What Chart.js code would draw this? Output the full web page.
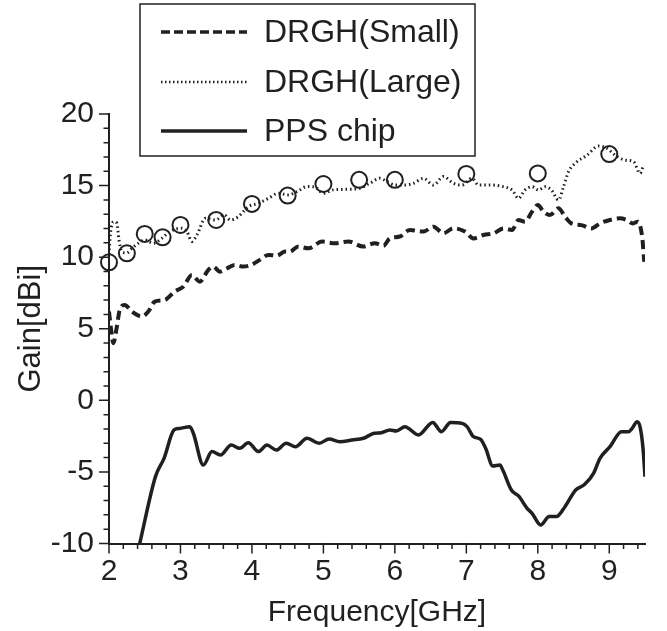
<!DOCTYPE html>
<html>
<head>
<meta charset="utf-8">
<script src="https://cdn.jsdelivr.net/npm/chart.js@4"></script>
<style>
  html, body { margin: 0; padding: 0; background: #fff; }
  #myChart { display: block; }
</style>
</head>
<body>
<canvas id="myChart" width="667" height="631"></canvas>
<script>
// values (GHz / dBi)
const freqSmall = [2.0, 2.03, 2.06, 2.11, 2.15, 2.22, 2.32, 2.46, 2.55, 2.64, 2.78, 2.92, 3.04, 3.16, 3.27, 3.39, 3.46, 3.55, 3.65, 3.76, 3.88, 3.99, 4.11, 4.23, 4.35, 4.46, 4.53, 4.65, 4.79, 4.98, 5.16, 5.35, 5.56, 5.72, 5.84, 5.93, 6.07, 6.21, 6.40, 6.54, 6.68, 6.82, 6.98, 7.10, 7.24, 7.38, 7.52, 7.64, 7.73, 7.82, 7.92, 8.0, 8.08, 8.17, 8.29, 8.38, 8.47, 8.61, 8.75, 8.87, 9.01, 9.15, 9.24, 9.33, 9.40, 9.46, 9.49];
const gainSmall = [6.2, 4.92, 3.99, 5.15, 6.32, 6.66, 6.2, 5.85, 6.2, 6.9, 7.01, 7.6, 7.94, 8.76, 8.29, 9.11, 9.34, 8.99, 9.22, 9.46, 9.34, 9.46, 9.81, 10.16, 10.1, 10.39, 10.39, 10.74, 10.62, 11.09, 10.97, 11.09, 10.74, 10.97, 10.8, 11.32, 11.44, 11.9, 11.79, 12.13, 11.67, 12.02, 11.79, 11.31, 11.55, 11.66, 12.01, 11.9, 12.6, 12.48, 13.18, 13.64, 13.18, 12.94, 13.41, 12.83, 12.36, 12.24, 12.01, 12.36, 12.6, 12.71, 12.6, 12.36, 12.48, 11.43, 9.68];

const freqLarge = [2.0, 2.02, 2.07, 2.11, 2.14, 2.18, 2.25, 2.32, 2.41, 2.5, 2.62, 2.74, 2.85, 3.02, 3.09, 3.16, 3.23, 3.35, 3.49, 3.61, 3.70, 3.81, 3.95, 4.09, 4.23, 4.37, 4.51, 4.63, 4.77, 4.88, 5.0, 5.14, 5.33, 5.51, 5.65, 5.79, 5.89, 6.0, 6.14, 6.26, 6.40, 6.54, 6.68, 6.82, 6.94, 7.08, 7.17, 7.33, 7.52, 7.64, 7.73, 7.82, 7.92, 8.01, 8.1, 8.19, 8.29, 8.36, 8.43, 8.52, 8.69, 8.85, 8.97, 9.08, 9.22, 9.34, 9.43, 9.48];
const gainLarge = [10.2, 11.67, 12.48, 12.37, 11.2, 10.39, 10.3, 10.62, 10.97, 11.2, 10.97, 11.32, 11.79, 12.02, 11.79, 11.09, 11.55, 12.72, 12.6, 12.95, 12.6, 12.83, 13.53, 13.76, 14.11, 14.46, 14.35, 14.58, 14.93, 14.9, 14.46, 14.7, 14.74, 14.81, 15.16, 15.51, 15.28, 15.04, 15.04, 15.16, 15.51, 15.04, 15.63, 15.16, 15.04, 15.51, 15.04, 15.04, 14.92, 14.69, 14.11, 14.69, 14.92, 14.69, 14.92, 14.69, 13.99, 14.92, 15.97, 16.55, 17.13, 17.76, 17.6, 17.13, 16.78, 16.67, 15.85, 16.44];

const freqPps = [2.43, 2.65, 2.77, 2.91, 2.99, 3.13, 3.18, 3.32, 3.44, 3.56, 3.71, 3.83, 3.95, 4.09, 4.21, 4.34, 4.48, 4.61, 4.77, 4.94, 5.08, 5.23, 5.40, 5.56, 5.71, 5.81, 5.93, 6.02, 6.14, 6.33, 6.53, 6.65, 6.78, 6.94, 7.01, 7.10, 7.20, 7.27, 7.37, 7.47, 7.51, 7.63, 7.73, 7.85, 7.92, 8.04, 8.16, 8.26, 8.38, 8.53, 8.65, 8.78, 8.87, 9.01, 9.17, 9.27, 9.32, 9.39, 9.43, 9.47, 9.50];
const gainPps = [-10.0, -5.33, -4.05, -2.07, -1.96, -1.84, -2.30, -4.52, -3.58, -3.82, -3.12, -3.35, -2.96, -3.58, -3.12, -3.47, -3.0, -3.24, -2.65, -3.0, -2.7, -2.89, -2.77, -2.65, -2.30, -2.26, -2.07, -2.14, -1.84, -2.42, -1.54, -2.19, -1.54, -1.61, -1.84, -2.54, -2.72, -3.35, -4.59, -4.52, -4.87, -6.26, -6.68, -7.54, -7.89, -8.71, -8.12, -8.12, -7.43, -6.26, -5.9, -5.1, -4.05, -3.24, -2.19, -2.19, -1.96, -1.49, -1.84, -3.24, -5.33];

// open circles (measured points)
const freqMarks = [2, 2.25, 2.5, 2.75, 3, 3.5, 4, 4.5, 5, 5.5, 6, 7, 8, 9];
const gainMarks = [9.64, 10.27, 11.62, 11.39, 12.25, 12.6, 13.72, 14.3, 15.11, 15.4, 15.4, 15.81, 15.85, 17.2];

const ink = "#231f20";
const fontFamily = "'Liberation Sans', Arial, Helvetica, sans-serif";

function toPoints(xs, ys) {
  return xs.map((x, i) => ({ x: x, y: ys[i] }));
}

// small and long ticks on both axes
const axisTicks = {
  id: "axisTicks",
  afterDraw(chart) {
    const ctx = chart.ctx;
    const xs = chart.scales.x;
    const ys = chart.scales.y;
    const left = chart.chartArea.left;
    const bottom = chart.chartArea.bottom;
    ctx.save();
    ctx.strokeStyle = ink;
    ctx.lineWidth = 1.5;
    ctx.beginPath();
    for (let v = -10; v <= 20; v++) {
      const y = ys.getPixelForValue(v);
      const len = v % 5 === 0 ? 10 : 5.5;
      ctx.moveTo(left, y);
      ctx.lineTo(left - len, y);
    }
    for (let i = 0; i <= 37; i++) {
      const x = xs.getPixelForValue(2 + i * 0.2);
      const len = i % 5 === 0 ? 10 : 5.5;
      ctx.moveTo(x, bottom);
      ctx.lineTo(x, bottom + len);
    }
    ctx.stroke();
    ctx.restore();
  }
};

// boxed legend at the top
const boxLegend = {
  id: "boxLegend",
  afterDraw(chart) {
    const ctx = chart.ctx;
    const rows = [32, 82, 131];
    ctx.save();
    ctx.fillStyle = "#fff";
    ctx.fillRect(140, 4, 335, 152);
    ctx.strokeStyle = ink;
    ctx.lineWidth = 1.5;
    ctx.strokeRect(140, 4, 335, 152);
    ctx.font = "32px " + fontFamily;
    ctx.textBaseline = "middle";
    let r = 0;
    chart.data.datasets.forEach((ds) => {
      if (!ds.label) return;
      const y = rows[r++];
      ctx.beginPath();
      ctx.setLineDash(ds.legendDash || []);
      ctx.lineWidth = ds.legendWidth || ds.borderWidth;
      ctx.strokeStyle = ink;
      ctx.moveTo(161, y);
      ctx.lineTo(247, y);
      ctx.stroke();
      ctx.setLineDash([]);
      ctx.fillStyle = ink;
      ctx.fillText(ds.label, 264, y + 1);
    });
    ctx.restore();
  }
};

const ctx = document.getElementById("myChart").getContext("2d");
const myChart = new Chart(ctx, {
  type: "line",
  data: {
    datasets: [
      {
        label: "DRGH(Small)",
        data: toPoints(freqSmall, gainSmall),
        borderColor: ink,
        borderWidth: 4,
        borderDash: [9, 5],
        legendDash: [9, 4],
        legendWidth: 3.5,
        pointRadius: 0,
        cubicInterpolationMode: "monotone",
        order: 2
      },
      {
        label: "DRGH(Large)",
        data: toPoints(freqLarge, gainLarge),
        borderColor: ink,
        borderWidth: 3,
        borderDash: [1.5, 3],
        legendDash: [1.5, 2.5],
        legendWidth: 2.5,
        pointRadius: 0,
        cubicInterpolationMode: "monotone",
        order: 3
      },
      {
        label: "PPS chip",
        data: toPoints(freqPps, gainPps),
        borderColor: ink,
        borderWidth: 3.5,
        pointRadius: 0,
        cubicInterpolationMode: "monotone",
        order: 1
      },
      {
        label: "",
        data: toPoints(freqMarks, gainMarks),
        showLine: false,
        pointStyle: "circle",
        pointRadius: 8,
        pointBorderWidth: 2,
        pointBorderColor: ink,
        pointBackgroundColor: "rgba(0,0,0,0)",
        clip: false,
        order: 0
      }
    ]
  },
  options: {
    responsive: false,
    animation: false,
    layout: { padding: { top: 114, right: 22, left: 0, bottom: 0 } },
    plugins: {
      legend: { display: false },
      tooltip: { enabled: false }
    },
    scales: {
      x: {
        type: "linear",
        min: 2,
        max: 9.5,
        afterFit: (scale) => { scale.height = 87.5; },
        grid: { drawOnChartArea: false, tickLength: 10, tickColor: "rgba(0,0,0,0)" },
        border: { display: true, color: ink, width: 2 },
        ticks: {
          stepSize: 1,
          includeBounds: false,
          padding: 0,
          color: ink,
          font: { family: fontFamily, size: 30 }
        },
        title: {
          display: true,
          text: "Frequency[GHz]",
          color: ink,
          font: { family: fontFamily, size: 30 },
          padding: { top: 2, bottom: 0 }
        }
      },
      y: {
        min: -10,
        max: 20,
        afterFit: (scale) => { scale.width = 109; },
        grid: { drawOnChartArea: false, tickLength: 10, tickColor: "rgba(0,0,0,0)" },
        border: { display: true, color: ink, width: 2 },
        ticks: {
          stepSize: 5,
          padding: 5,
          color: ink,
          font: { family: fontFamily, size: 30 }
        },
        title: {
          display: true,
          text: "Gain[dBi]",
          color: ink,
          font: { family: fontFamily, size: 31 },
          padding: { top: 13, bottom: 0 }
        }
      }
    }
  },
  plugins: [axisTicks, boxLegend]
});
</script>
</body>
</html>
